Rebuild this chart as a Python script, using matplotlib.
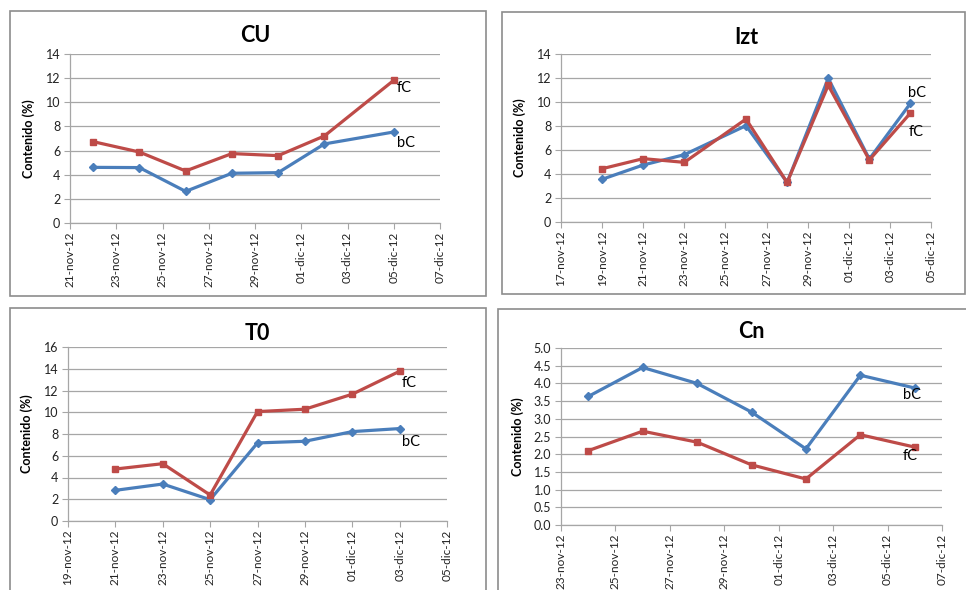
import datetime as dt
import matplotlib
matplotlib.use("Agg")
import matplotlib.pyplot as plt
import matplotlib.dates as mdates
from matplotlib.patches import Rectangle
from matplotlib.ticker import FuncFormatter, FixedLocator

plt.rcParams['font.family'] = ['Lato', 'DejaVu Sans']

MONTHS = {11: 'nov', 12: 'dic'}

def d(s):
    day, mon = s.split('-')
    return dt.date(2012, {'nov': 11, 'dic': 12}[mon], int(day))

# ---- data ----
cu_dates = ['22-nov', '24-nov', '26-nov', '28-nov', '30-nov', '02-dic', '05-dic']
cu_fc = [6.74, 5.88, 4.31, 5.75, 5.58, 7.21, 11.82]
cu_bc = [4.61, 4.59, 2.62, 4.12, 4.17, 6.55, 7.54]
cu_ticks = ['21-nov', '23-nov', '25-nov', '27-nov', '29-nov', '01-dic', '03-dic', '05-dic', '07-dic']

izt_dates = ['19-nov', '21-nov', '23-nov', '26-nov', '28-nov', '30-nov', '02-dic', '04-dic']
izt_bc = [3.56, 4.75, 5.61, 8.03, 3.30, 11.97, 5.25, 9.89]
izt_fc = [4.44, 5.28, 4.97, 8.58, 3.30, 11.39, 5.17, 9.08]
izt_ticks = ['17-nov', '19-nov', '21-nov', '23-nov', '25-nov', '27-nov', '29-nov', '01-dic', '03-dic', '05-dic']

t0_dates = ['21-nov', '23-nov', '25-nov', '27-nov', '29-nov', '01-dic', '03-dic']
t0_fc = [4.78, 5.27, 2.39, 10.06, 10.28, 11.66, 13.77]
t0_bc = [2.82, 3.40, 1.96, 7.18, 7.33, 8.22, 8.50]
t0_ticks = ['19-nov', '21-nov', '23-nov', '25-nov', '27-nov', '29-nov', '01-dic', '03-dic', '05-dic']

cn_dates = ['24-nov', '26-nov', '28-nov', '30-nov', '02-dic', '04-dic', '06-dic']
cn_bc = [3.63, 4.45, 4.00, 3.19, 2.15, 4.23, 3.87]
cn_fc = [2.10, 2.65, 2.34, 1.70, 1.30, 2.55, 2.20]
cn_ticks = ['23-nov', '25-nov', '27-nov', '29-nov', '01-dic', '03-dic', '05-dic', '07-dic']

BLUE = '#4A7EBB'
RED = '#BE4B48'
W, H = 966, 590

fig = plt.figure(figsize=(W / 100, H / 100), dpi=100)

def fbox(x0, y0, x1, y1):
    return [x0 / W, 1 - y1 / H, (x1 - x0) / W, (y1 - y0) / H]

# panel borders
for (x0, y0, x1, y1) in [(10, 11, 486, 296), (502, 12, 965, 294),
                         (10, 308, 486, 600), (498, 309, 975, 600)]:
    r = Rectangle((x0 / W, 1 - y1 / H), (x1 - x0) / W, (y1 - y0) / H,
                  transform=fig.transFigure, fill=False, edgecolor='#8C8C8C',
                  linewidth=1.2, zorder=0)
    fig.add_artist(r)

def fmt(x, pos):
    dd = mdates.num2date(x)
    return f"{dd.day:02d}-{MONTHS[dd.month]}-12"

def panel(box, title, dates, fc, bc, ticks, ymax, ystep, yfmt,
          title_y, fc_off, bc_off, ylabel_x):
    ax = fig.add_axes(fbox(*box))
    xs = [d(s) for s in dates]
    tk = [mdates.date2num(d(s)) for s in ticks]
    ax.plot(xs, bc, color=BLUE, lw=2.3, marker='D', ms=3.6, zorder=3)
    ax.plot(xs, fc, color=RED, lw=2.3, marker='s', ms=3.9, zorder=3)
    ax.set_xlim(tk[0], tk[-1])
    ax.set_ylim(0, ymax)
    ax.xaxis.set_major_locator(FixedLocator(tk))
    ax.xaxis.set_major_formatter(FuncFormatter(fmt))
    yt = [i * ystep for i in range(int(round(ymax / ystep)) + 1)]
    ax.set_yticks(yt)
    ax.set_yticklabels([yfmt.format(v) for v in yt])
    ax.grid(axis='y', color='#A6A6A6', lw=0.9)
    ax.set_axisbelow(True)
    for s in ['top', 'right']:
        ax.spines[s].set_visible(False)
    for s in ['left', 'bottom']:
        ax.spines[s].set_color('#A6A6A6')
        ax.spines[s].set_linewidth(0.9)
    ax.tick_params(axis='x', rotation=90, labelsize=8.5, length=4,
                   color='#A6A6A6', pad=2, labelcolor='#222222')
    ax.tick_params(axis='y', labelsize=9, length=4, color='#A6A6A6',
                   pad=3, labelcolor='#222222')
    # title
    x0, y0, x1, y1 = box
    fig.text((x0 + x1) / 2 / W, 1 - title_y / H, title, ha='center',
             va='center', fontsize=15.5, fontweight='bold')
    fig.text(ylabel_x / W, 1 - (y0 + y1) / 2 / H, 'Contenido (%)',
             rotation=90, ha='center', va='center', fontsize=9,
             fontweight='bold')
    ax.annotate('fC', (xs[-1], fc[-1]), xytext=fc_off, textcoords='offset pixels',
                ha='left', va='center', fontsize=10.5)
    ax.annotate('bC', (xs[-1], bc[-1]), xytext=bc_off, textcoords='offset pixels',
                ha='left', va='center', fontsize=10.5)
    return ax

panel((70, 54, 440, 223), 'CU', cu_dates, cu_fc, cu_bc, cu_ticks, 14, 2, '{:.0f}',
      36, (3, -8), (3, -11), 29)
panel((561, 54, 931, 222), 'Izt', izt_dates, izt_fc, izt_bc, izt_ticks, 14, 2, '{:.0f}',
      37, (-2, -19), (-2, 10), 520)
panel((68, 347, 447, 521), 'T0', t0_dates, t0_fc, t0_bc, t0_ticks, 16, 2, '{:.0f}',
      334, (2, -12), (2, -13), 27)
panel((561, 348, 942, 525), 'Cn', cn_dates, cn_fc, cn_bc, cn_ticks, 5.0, 0.5, '{:.1f}',
      332, (-12, -9), (-12, -7), 518)

fig.savefig('out.png', dpi=100)
